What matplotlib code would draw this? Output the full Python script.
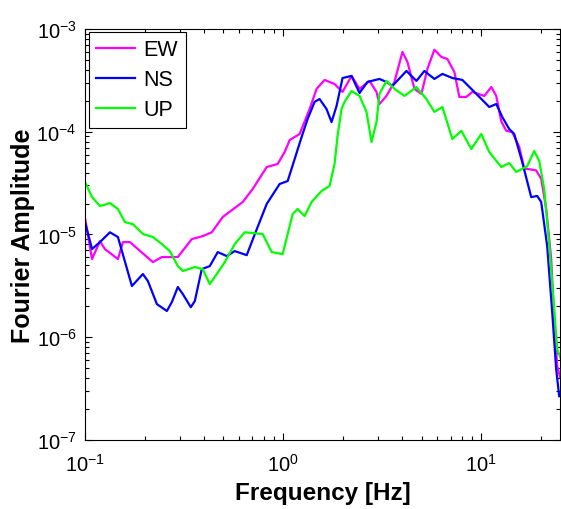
import numpy as np
import matplotlib
matplotlib.use("Agg")
import matplotlib.pyplot as plt
from matplotlib.ticker import LogLocator, NullFormatter

plt.rcParams['font.family'] = ['Liberation Sans', 'DejaVu Sans']
plt.rcParams['mathtext.fontset'] = 'custom'
plt.rcParams['mathtext.rm'] = 'Liberation Sans'

# EW component
ew_f = [0.100, 0.1085, 0.119, 0.126, 0.1466, 0.1554, 0.1686, 0.1849, 0.2201, 0.2443,
        0.2941, 0.346, 0.393, 0.4363, 0.4958, 0.5697, 0.6252, 0.7021, 0.8259, 0.9382,
        1.018, 1.079, 1.211, 1.360, 1.475, 1.619, 1.817, 1.994, 2.214, 2.429,
        2.728, 2.958, 3.063, 3.322, 3.645, 3.999, 4.239, 4.598, 4.985, 5.345,
        5.797, 6.289, 6.742, 7.312, 7.750, 8.405, 9.008, 10.35, 11.23, 11.90,
        12.61, 13.37, 14.33, 15.54, 16.47, 18.92, 20.06, 21.26, 22.53, 23.33,
        24.15, 25.0]
ew_a = [1.45e-5, 5.76e-6, 8.61e-6, 7.21e-6, 5.76e-6, 8.43e-6, 8.43e-6, 7.21e-6, 5.38e-6, 6.03e-6,
        6.03e-6, 9.02e-6, 9.64e-6, 1.05e-5, 1.48e-5, 1.81e-5, 2.07e-5, 2.77e-5, 4.53e-5, 4.85e-5,
        6.34e-5, 8.3e-5, 9.5e-5, 1.66e-4, 2.61e-4, 3.19e-4, 2.91e-4, 2.44e-4, 3.49e-4, 2.61e-4,
        3.12e-4, 2.44e-4, 1.86e-4, 2.23e-4, 3.05e-4, 5.97e-4, 4.77e-4, 2.61e-4, 2.33e-4, 4.08e-4,
        6.28e-4, 5.34e-4, 5.10e-4, 3.81e-4, 2.18e-4, 2.18e-4, 2.44e-4, 2.23e-4, 2.72e-4, 2.23e-4,
        1.26e-4, 1.02e-4, 9.93e-5, 7.10e-5, 4.4e-5, 4.2e-5, 3.47e-5, 1.77e-5, 5.76e-6, 1.50e-6,
        5.24e-7, 4.09e-7]

# NS component
ns_f = [0.100, 0.1085, 0.119, 0.1336, 0.1466, 0.1725, 0.196, 0.2077, 0.2306, 0.2589,
        0.2744, 0.2941, 0.3117, 0.342, 0.3583, 0.3885, 0.4263, 0.4677, 0.5193, 0.5697,
        0.6548, 0.7185, 0.8259, 0.960, 1.054, 1.143, 1.239, 1.329, 1.441, 1.527,
        1.656, 1.755, 1.860, 1.994, 2.214, 2.429, 2.665, 3.063, 3.322, 3.561,
        4.190, 4.705, 5.161, 5.797, 6.362, 7.144, 8.024, 8.904, 9.772, 10.97,
        11.90, 12.76, 13.84, 14.66, 16.09, 17.86, 19.15, 20.06, 21.50, 22.79,
        23.87, 24.72]
ns_a = [1.32e-5, 7.21e-6, 8.43e-6, 1.05e-5, 9.44e-6, 3.15e-6, 4.12e-6, 3.52e-6, 2.10e-6, 1.80e-6,
        2.20e-6, 3.08e-6, 2.63e-6, 1.96e-6, 2.25e-6, 4.60e-6, 4.92e-6, 6.74e-6, 6.16e-6, 6.89e-6,
        6.29e-6, 1.0e-5, 1.98e-5, 3.10e-5, 3.31e-5, 5.42e-5, 8.87e-5, 1.33e-4, 1.95e-4, 2.08e-4,
        1.66e-4, 1.24e-4, 1.78e-4, 3.33e-4, 3.49e-4, 2.38e-4, 3.05e-4, 3.26e-4, 3.05e-4, 2.79e-4,
        3.90e-4, 3.12e-4, 3.90e-4, 3.26e-4, 3.65e-4, 3.33e-4, 3.19e-4, 2.61e-4, 2.18e-4, 1.74e-4,
        1.86e-4, 1.39e-4, 1.06e-4, 9.50e-5, 5.07e-5, 2.31e-5, 2.37e-5, 2.07e-5, 7.71e-6, 1.76e-6,
        4.89e-7, 2.67e-7]

# UP component
up_f = [0.100, 0.1085, 0.119, 0.1336, 0.1466, 0.159, 0.1745, 0.196, 0.2201, 0.2443,
        0.268, 0.2941, 0.3117, 0.3583, 0.393, 0.4263, 0.4624, 0.5074, 0.5697, 0.6397,
        0.7884, 0.8752, 0.994, 1.117, 1.183, 1.283, 1.392, 1.563, 1.715, 1.817,
        1.882, 1.971, 2.041, 2.214, 2.429, 2.634, 2.792, 2.958, 3.063, 3.322,
        3.645, 4.093, 4.705, 5.283, 5.797, 6.362, 7.144, 7.931, 8.904, 10.0,
        10.97, 12.61, 13.84, 15.01, 17.05, 18.49, 19.60, 20.77, 22.01, 23.33,
        24.15, 25.0]
up_a = [3.24e-5, 2.31e-5, 1.89e-5, 2.02e-5, 1.77e-5, 1.32e-5, 1.26e-5, 1.01e-5, 9.44e-6, 8.06e-6,
        6.89e-6, 4.92e-6, 4.41e-6, 4.82e-6, 4.60e-6, 3.29e-6, 4.12e-6, 5.38e-6, 8.06e-6, 1.05e-5,
        1.01e-5, 6.74e-6, 6.44e-6, 1.58e-5, 1.77e-5, 1.51e-5, 2.07e-5, 2.65e-5, 2.96e-5, 4.85e-5,
        9.08e-5, 1.66e-4, 1.95e-4, 2.49e-4, 2.23e-4, 1.56e-4, 7.94e-5, 1.24e-4, 2.33e-4, 3.12e-4,
        2.61e-4, 2.23e-4, 2.72e-4, 2.08e-4, 1.56e-4, 1.74e-4, 8.49e-5, 1.02e-4, 6.79e-5, 9.50e-5,
        6.34e-5, 4.53e-5, 4.95e-5, 4.06e-5, 4.63e-5, 6.49e-5, 5.2e-5, 2.77e-5, 8.06e-6, 1.88e-6,
        7.66e-7, 6.4e-7]

fig = plt.figure(figsize=(5.61, 5.10), dpi=100)
ax = fig.add_axes([0.1515, 0.1353, 0.847, 0.806])

ax.loglog(ew_f, ew_a, color='#ff00ff', lw=1.6, label='EW')
ax.loglog(ns_f, ns_a, color='#0000ff', lw=1.6, label='NS')
ax.loglog(up_f, up_a, color='#00ff00', lw=1.6, label='UP')

ax.set_xlim(0.1, 25)
ax.set_ylim(1e-7, 1e-3)

ax.xaxis.set_major_locator(LogLocator(base=10, numticks=10))
ax.yaxis.set_major_locator(LogLocator(base=10, numticks=10))
ax.xaxis.set_minor_locator(LogLocator(base=10, subs=np.arange(2, 10), numticks=20))
ax.yaxis.set_minor_locator(LogLocator(base=10, subs=np.arange(2, 10), numticks=20))
ax.xaxis.set_minor_formatter(NullFormatter())
ax.yaxis.set_minor_formatter(NullFormatter())

ax.tick_params(which='both', direction='in', top=True, right=True, width=0.8)
ax.tick_params(which='major', length=5, labelsize=14.5)
ax.tick_params(axis='x', which='major', pad=9)
ax.tick_params(axis='y', which='major', pad=6)
ax.tick_params(which='minor', length=3)
for s in ax.spines.values():
    s.set_linewidth(0.8)

ax.set_xlabel('Frequency [Hz]', fontsize=17.5, fontweight='bold', labelpad=5)
ax.set_ylabel('Fourier Amplitude', fontsize=18, fontweight='bold', labelpad=1)

leg = ax.legend(loc='upper left', bbox_to_anchor=(0.008, 0.993), borderaxespad=0,
                fontsize=15.5, fancybox=False, framealpha=1, edgecolor='black',
                handlelength=1.8, handletextpad=0.4, labelspacing=0.42, borderpad=0.35)
leg.get_frame().set_linewidth(0.8)

fig.savefig('out.png', dpi=100)
